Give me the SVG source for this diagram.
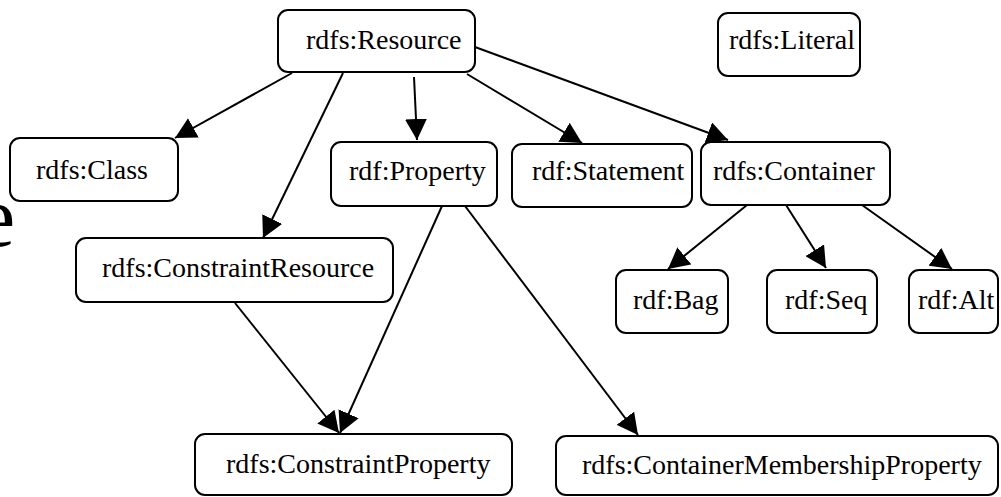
<svg xmlns="http://www.w3.org/2000/svg" width="1001" height="497" viewBox="0 0 1001 497">
<style>
.box{fill:#fff;stroke:#000;stroke-width:2}
.lbl{font-family:'Liberation Serif',serif;font-size:28px;fill:#000}
.edge{stroke:#000;stroke-width:2;fill:none;marker-end:url(#arr)}
</style>
<defs>
<marker id="arr" markerUnits="userSpaceOnUse" markerWidth="22" markerHeight="22" refX="21" refY="11" orient="auto" viewBox="0 0 22 22">
<path d="M0,0 L21,11 L0,22 z" fill="#000"/>
</marker>
</defs>
<rect width="1001" height="497" fill="#fff"/>
<text x="-23" y="246" style="font-family:'Liberation Serif',serif;font-size:86px" fill="#000">e</text>
<g id="connectors">
<line class="edge" x1="292" y1="73" x2="175" y2="138"/>
<line class="edge" x1="343" y1="73" x2="263" y2="238"/>
<line class="edge" x1="414" y1="77" x2="417" y2="140"/>
<line class="edge" x1="467" y1="74" x2="582" y2="143"/>
<line class="edge" x1="475" y1="47" x2="728" y2="140"/>
<line class="edge" x1="442" y1="206" x2="340" y2="433"/>
<line class="edge" x1="465" y1="206" x2="638" y2="435"/>
<line class="edge" x1="235" y1="303" x2="339" y2="433"/>
<line class="edge" x1="747" y1="205" x2="668" y2="269"/>
<line class="edge" x1="786" y1="205" x2="826" y2="268"/>
<line class="edge" x1="862" y1="205" x2="952" y2="269"/>
</g>
<g id="resource"><rect class="box" x="278" y="10" width="197" height="62" rx="10"/><text class="lbl" x="306" y="49">rdfs:Resource</text></g>
<g id="literal"><rect class="box" x="718" y="13" width="142" height="63" rx="10"/><text class="lbl" x="729" y="49">rdfs:Literal</text></g>
<g id="class"><rect class="box" x="10" y="138" width="168" height="63" rx="10"/><text class="lbl" x="36" y="179">rdfs:Class</text></g>
<g id="property"><rect class="box" x="331" y="142" width="166" height="64" rx="10"/><text class="lbl" x="349" y="180">rdf:Property</text></g>
<g id="statement"><rect class="box" x="512" y="144" width="180" height="63" rx="10"/><text class="lbl" x="532" y="180">rdf:Statement</text></g>
<g id="container"><rect class="box" x="701" y="142" width="189" height="63" rx="10"/><text class="lbl" x="713" y="180">rdfs:Container</text></g>
<g id="constraintresource"><rect class="box" x="76" y="238" width="317" height="64" rx="10"/><text class="lbl" x="102" y="277">rdfs:ConstraintResource</text></g>
<g id="bag"><rect class="box" x="616" y="270" width="112" height="63" rx="10"/><text class="lbl" x="633" y="309">rdf:Bag</text></g>
<g id="seq"><rect class="box" x="767" y="270" width="110" height="63" rx="10"/><text class="lbl" x="785" y="309">rdf:Seq</text></g>
<g id="alt"><rect class="box" x="909" y="270" width="89" height="63" rx="10"/><text class="lbl" x="918" y="309">rdf:Alt</text></g>
<g id="constraintproperty"><rect class="box" x="195" y="434" width="317" height="61" rx="10"/><text class="lbl" x="226" y="473">rdfs:ConstraintProperty</text></g>
<g id="containermembershipproperty"><rect class="box" x="556" y="436" width="442" height="59" rx="10"/><text class="lbl" x="582" y="474">rdfs:ContainerMembershipProperty</text></g>
</svg>
